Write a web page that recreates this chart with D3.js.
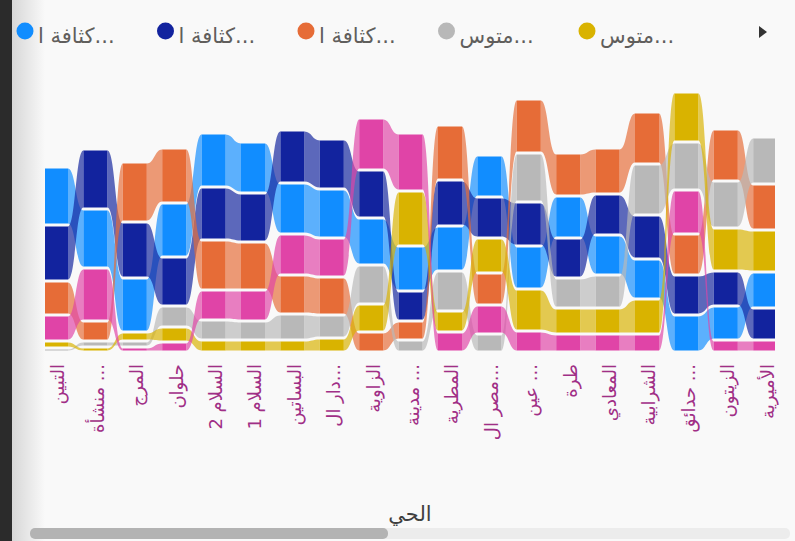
<!DOCTYPE html>
<html>
<head>
<meta charset="utf-8">
<script src="https://cdn.jsdelivr.net/npm/d3@7"></script>
<style>
  body { margin: 0; background: #f9f9f9; overflow: hidden; }
  svg { display: block; font-family: "Segoe UI", "DejaVu Sans", sans-serif; }
</style>
</head>
<body>
<div id="vis"></div>
<script>
// size of the visual
var width = 795;
var height = 541;

// districts (as shown on the axis, already cut by the visual)
var categories = ["التبين", "منشأة ...", "المرج", "حلوان", "السلام 2", "السلام 1", "البساتين",
  "دار ال...", "الزاوية", "مدينة ...", "المطرية", "مصر ال...", "عين ...", "طرة", "المعادي",
  "الشرابية", "حدائق ...", "الزيتون", "الأميرية"];

// series names and the text the legend shows for them
var seriesNames = ["كثافة السكان 1", "كثافة السكان 2", "كثافة السكان 3", "متوسط 1", "متوسط 2", "عدد السكان"];
var legendLabels = ["كثافة ا...", "كثافة ا...", "كثافة ا...", "متوس...", "متوس..."];
var seriesColors = ["#118DFF", "#12239E", "#E66C37", "#B8B8B8", "#D9B300", "#E044A7"];

// values read per district
var lightBlue = [58, 59, 54, 54, 54, 51, 51, 49, 47, 45, 45, 42, 43, 42, 40, 40, 37, 34, 36];
var darkBlue  = [56, 60, 56, 49, 53, 49, 53, 50, 48, 30, 46, 41, 44, 40, 41, 44, 40, 35, 32];
var orange    = [34, 20, 60, 55, 50, 48, 39, 38, 20, 19, 55, 32, 54, 43, 46, 52, 41, 52, 46];
var grey      = [4, 6, 6, 21, 20, 19, 26, 23, 39, 12, 40, 18, 49, 30, 33, 51, 48, 47, 47];
var yellow    = [7, 5, 9, 15, 12, 12, 12, 14, 28, 55, 21, 35, 42, 26, 26, 35, 50, 43, 42];
var pink      = [26, 53, 5, 10, 30, 31, 41, 39, 52, 58, 20, 29, 21, 18, 18, 18, 44, 12, 12];

var seriesValues = [lightBlue, darkBlue, orange, grey, yellow, pink];

var svg = d3.select("#vis").append("svg")
  .attr("width", width)
  .attr("height", height);

// dark frame on the left and its soft shadow
var defs = svg.append("defs");
var grad = defs.append("linearGradient").attr("id", "shade");
grad.append("stop").attr("offset", "0%").attr("stop-color", "#d6d6d6");
grad.append("stop").attr("offset", "100%").attr("stop-color", "#f9f9f9");
svg.append("rect").attr("x", 11).attr("y", 0).attr("width", 34).attr("height", height).attr("fill", "url(#shade)");
svg.append("rect").attr("x", 0).attr("y", 0).attr("width", 12).attr("height", height).attr("fill", "#2b2b2b");

defs.append("clipPath").attr("id", "plotclip")
  .append("rect").attr("x", 45).attr("y", 0).attr("width", 730).attr("height", 360);

// scales
var x = d3.scaleBand()
  .domain(categories)
  .range([36.3, 36.3 + 39.4 * categories.length]);

var y = d3.scaleLinear()
  .domain([0, 260])
  .range([352, 92]);

var barW = 24;
var gap = 1.5;

// rank stacking: biggest value on top for every district
var stacks = categories.map(function(c, i) {
  var order = d3.range(seriesValues.length).sort(function(a, b) {
    return seriesValues[a][i] - seriesValues[b][i];
  });
  var pos = {};
  var acc = 0;
  order.forEach(function(s) {
    pos[s] = { y0: acc, y1: acc + seriesValues[s][i] };
    acc += seriesValues[s][i];
  });
  return pos;
});

function cx(i) { return x(categories[i]) + x.bandwidth() / 2; }

var plot = svg.append("g").attr("clip-path", "url(#plotclip)");

// ribbons between neighbouring columns
var ribbons = [];
for (var i = 0; i < categories.length - 1; i++) {
  seriesValues.forEach(function(vals, s) {
    ribbons.push({ s: s, a: stacks[i][s], b: stacks[i + 1][s], x0: cx(i) + barW / 2, x1: cx(i + 1) - barW / 2 });
  });
}

function ribbonPath(d) {
  var t0 = y(d.a.y1) + gap, b0 = y(d.a.y0) - gap;
  var t1 = y(d.b.y1) + gap, b1 = y(d.b.y0) - gap;
  var m = (d.x0 + d.x1) / 2;
  return "M" + d.x0 + "," + t0 +
    "C" + m + "," + t0 + " " + m + "," + t1 + " " + d.x1 + "," + t1 +
    "L" + d.x1 + "," + b1 +
    "C" + m + "," + b1 + " " + m + "," + b0 + " " + d.x0 + "," + b0 + "Z";
}

plot.selectAll(".ribbon")
  .data(ribbons)
  .enter().append("path")
  .attr("class", "ribbon")
  .attr("d", ribbonPath)
  .attr("fill", function(d) { return seriesColors[d.s]; })
  .attr("fill-opacity", 0.68);

// columns
var segs = [];
categories.forEach(function(c, i) {
  seriesValues.forEach(function(vals, s) {
    segs.push({ i: i, s: s, y0: stacks[i][s].y0, y1: stacks[i][s].y1 });
  });
});

plot.selectAll(".seg")
  .data(segs)
  .enter().append("rect")
  .attr("class", "seg")
  .attr("x", function(d) { return cx(d.i) - barW / 2; })
  .attr("width", barW)
  .attr("y", function(d) { return y(d.y1) + gap; })
  .attr("height", function(d) { return Math.max(0, y(d.y0) - y(d.y1) - 2 * gap); })
  .attr("fill", function(d) { return seriesColors[d.s]; });

// category labels, turned up
svg.append("g").selectAll("text")
  .data(categories)
  .enter().append("text")
  .attr("transform", function(d, i) { return "translate(" + (cx(i) + 2) + ",364) rotate(-90)"; })
  .attr("text-anchor", "end")
  .attr("dy", "0.35em")
  .attr("fill", "#a02f86")
  .style("font-size", "18px")
  .text(function(d) { return d; });

// axis title
svg.append("text")
  .attr("x", 410)
  .attr("y", 521)
  .attr("text-anchor", "middle")
  .attr("fill", "#404040")
  .style("font-size", "21px")
  .text("الحي");

// legend
var legend = svg.append("g");
legendLabels.forEach(function(lab, s) {
  var lx = 25 + s * 140.5;
  legend.append("circle")
    .attr("cx", lx).attr("cy", 31).attr("r", 8.5)
    .attr("fill", seriesColors[s]);
  legend.append("text")
    .attr("x", lx + 13)
    .attr("y", 43)
    .attr("fill", "#605E5C")
    .style("font-size", "21px")
    .text(lab);
});
legend.append("path")
  .attr("d", "M759,26 L767,32 L759,38 Z")
  .attr("fill", "#333");

// horizontal scrollbar
svg.append("rect").attr("x", 30).attr("y", 528).attr("width", 760).attr("height", 11)
  .attr("rx", 5).attr("fill", "#ececec");
svg.append("rect").attr("x", 30).attr("y", 528).attr("width", 358).attr("height", 11)
  .attr("rx", 5).attr("fill", "#b3b3b3");
</script>
</body>
</html>
